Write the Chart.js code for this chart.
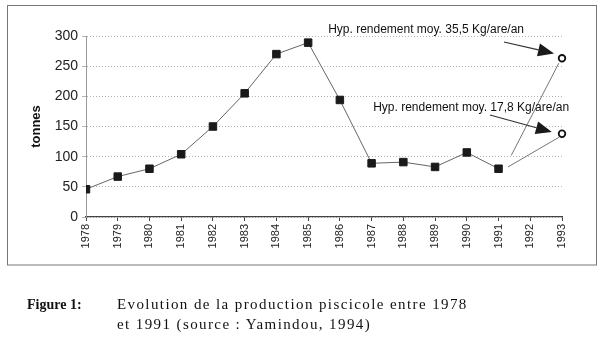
<!DOCTYPE html>
<html>
<head>
<meta charset="utf-8">
<script src="https://cdn.jsdelivr.net/npm/chart.js@4.4.0/dist/chart.umd.min.js"></script>
<style>
  body { margin: 0; background: #fff; }
  #wrap { position: relative; width: 603px; height: 341px; }
  #chart1 { display: block; }
  .cap { position: absolute; font-family: "Liberation Serif", "Times New Roman", serif; font-size: 14px; line-height: 20px; color: #111; white-space: nowrap; }
  .cap.body { font-size: 15px; letter-spacing: 1.4px; }
</style>
</head>
<body>
<div id="wrap">
  <canvas id="chart1" width="603" height="341"></canvas>
  <div class="cap" style="left:27px;top:295px;font-weight:bold">Figure 1:</div>
  <div class="cap body" style="left:117px;top:294px">Evolution de la production piscicole entre 1978<br>et 1991 (source : Yamindou, 1994)</div>
</div>
<script>
// production piscicole (tonnes)
const years = [1978, 1979, 1980, 1981, 1982, 1983, 1984, 1985, 1986, 1987, 1988, 1989, 1990, 1991];
const tonnes = [46, 67, 80, 104, 150, 205, 270, 289, 194, 89, 91, 83, 107, 80];

// hypotheses for 1993
const hypYears = [1993, 1993];
const hypValues = [263, 138];
const hypLabels = ["Hyp. rendement moy. 35,5 Kg/are/an", "Hyp. rendement moy. 17,8 Kg/are/an"];

// projection lines from the 1991 point to each hypothesis
const highLineX = [1991.4, 1992.9];
const highLineY = [102, 255];
const lowLineX = [1991.3, 1992.9];
const lowLineY = [83, 132];

// y axis ticks
const yTicks = [0, 50, 100, 150, 200, 250, 300];

// label + arrow placement, in axis units
const notes = [
  { text: hypLabels[0], tx: 1985.63, ty: 310, from: [1991.17, 290], to: [1992.75, 271] },
  { text: hypLabels[1], tx: 1987.05, ty: 182, from: [1990.73, 169], to: [1992.68, 141] },
];

function toXY(xs, ys) {
  return xs.map((x, i) => ({ x: x, y: ys[i] }));
}

const framePlugin = {
  id: "frame",
  beforeDraw(chart) {
    const ctx = chart.ctx;
    ctx.save();
    ctx.fillStyle = "#fff";
    ctx.fillRect(0, 0, chart.width, chart.height);
    ctx.strokeStyle = "#777";
    ctx.lineWidth = 1;
    ctx.strokeRect(7.5, 5.5, 589, 259.5);
    ctx.restore();
  }
};

const notesPlugin = {
  id: "notes",
  afterDatasetsDraw(chart) {
    const ctx = chart.ctx;
    const xs = chart.scales.x;
    const ys = chart.scales.y;
    ctx.save();
    notes.forEach(n => {
      ctx.fillStyle = "#111";
      ctx.font = "12px 'Liberation Sans', Arial, sans-serif";
      ctx.textAlign = "left";
      ctx.textBaseline = "middle";
      ctx.fillText(n.text, xs.getPixelForValue(n.tx), ys.getPixelForValue(n.ty));

      const x1 = xs.getPixelForValue(n.from[0]), y1 = ys.getPixelForValue(n.from[1]);
      const x2 = xs.getPixelForValue(n.to[0]), y2 = ys.getPixelForValue(n.to[1]);
      const ang = Math.atan2(y2 - y1, x2 - x1);
      const headLen = 16, headW = 6.5;
      const bx = x2 - headLen * Math.cos(ang), by = y2 - headLen * Math.sin(ang);
      ctx.strokeStyle = "#333";
      ctx.lineWidth = 1.2;
      ctx.beginPath();
      ctx.moveTo(x1, y1);
      ctx.lineTo(bx, by);
      ctx.stroke();
      ctx.fillStyle = "#1a1a1a";
      ctx.beginPath();
      ctx.moveTo(x2, y2);
      ctx.lineTo(bx + headW * Math.sin(ang), by - headW * Math.cos(ang));
      ctx.lineTo(bx - headW * Math.sin(ang), by + headW * Math.cos(ang));
      ctx.closePath();
      ctx.fill();
    });
    ctx.restore();
  }
};

const sans = "'Liberation Sans', Arial, sans-serif";

const ctx = document.getElementById("chart1").getContext("2d");
const myChart = new Chart(ctx, {
  type: "line",
  data: {
    datasets: [
      {
        label: "production",
        data: toXY(years, tonnes),
        borderColor: "#666",
        borderWidth: 1,
        pointStyle: "rect",
        pointRadius: 5.3,
        pointBackgroundColor: "#1a1a1a",
        pointBorderColor: "#1a1a1a",
        pointBorderWidth: 1,
        tension: 0,
      },
      {
        label: "proj 35,5",
        data: toXY(highLineX, highLineY),
        borderColor: "#777",
        borderWidth: 1,
        pointRadius: 0,
      },
      {
        label: "proj 17,8",
        data: toXY(lowLineX, lowLineY),
        borderColor: "#777",
        borderWidth: 1,
        pointRadius: 0,
      },
      {
        label: "hypotheses",
        data: toXY(hypYears, hypValues),
        showLine: false,
        pointStyle: "circle",
        pointRadius: 3.3,
        pointBackgroundColor: "#fff",
        pointBorderColor: "#111",
        pointBorderWidth: 1.8,
        clip: false,
      },
    ],
  },
  options: {
    responsive: false,
    animation: false,
    events: [],
    layout: { padding: { left: 0, top: 36, right: 41, bottom: 84 } },
    plugins: {
      legend: { display: false },
      tooltip: { enabled: false },
    },
    scales: {
      x: {
        type: "linear",
        min: 1978,
        max: 1993,
        afterFit(scale) { scale.height = 40; },
        grid: { drawOnChartArea: false, drawTicks: true, tickLength: 4, color: "#444" },
        border: { color: "#444", width: 1.3 },
        ticks: {
          stepSize: 1,
          minRotation: 90,
          maxRotation: 90,
          padding: 3,
          color: "#222",
          font: { family: sans, size: 11 },
          callback: v => String(v),
        },
      },
      y: {
        min: 0,
        max: 300,
        afterFit(scale) { scale.width = 86; },
        afterBuildTicks(scale) { scale.ticks = yTicks.map(v => ({ value: v })); },
        grid: { color: "#b4b4b4", lineWidth: 1, tickLength: 4 },
        border: { color: "#999", width: 1, dash: [1, 2] },
        ticks: {
          padding: 4,
          color: "#222",
          font: { family: sans, size: 14 },
        },
        title: {
          display: true,
          text: "tonnes",
          color: "#111",
          font: { family: sans, size: 13, weight: "bold" },
          padding: { top: 29, bottom: 0 },
        },
      },
    },
  },
  plugins: [framePlugin, notesPlugin],
});
</script>
</body>
</html>
